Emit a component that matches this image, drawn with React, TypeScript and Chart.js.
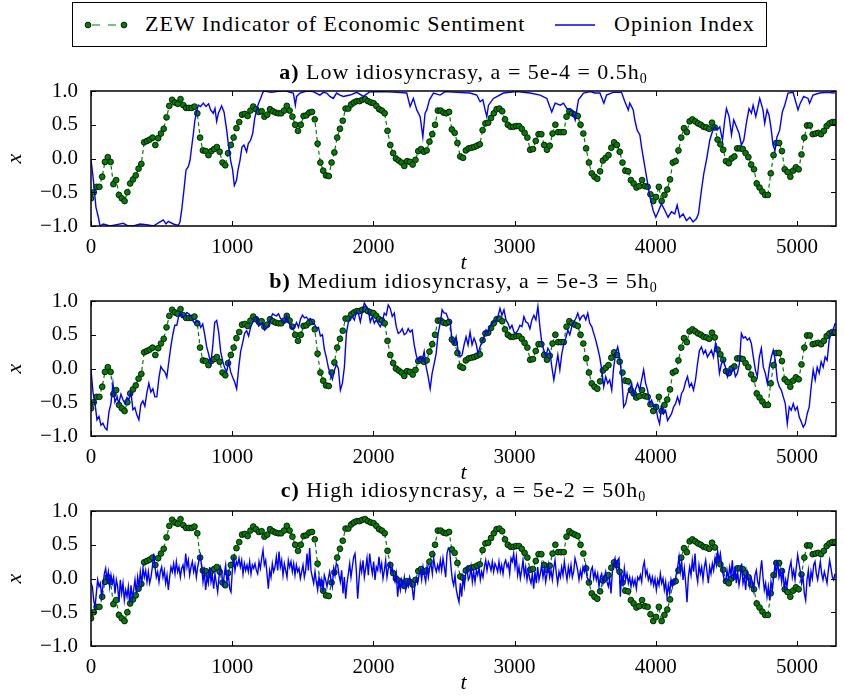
import React, { useEffect, useRef } from "react";
import { Chart, registerables } from "chart.js";
Chart.register(...registerables);

const SERIF = "'Liberation Serif', 'DejaVu Serif', serif";

const X_TICKS = [0, 1000, 2000, 3000, 4000, 5000];
const Y_TICKS = [-1, -0.5, 0, 0.5, 1];
const Y_TICK_LABELS = ["\u22121.0", "\u22120.5", "0.0", "0.5", "1.0"];
const T_MAX = 5276;

// ZEW Indicator of Economic Sentiment (monthly, same in all panels)
const ZEW_MONTH_T = 19.81;
const ZEW = [
  -0.59,-0.50,-0.42,-0.42,-0.27,-0.05,0.02,-0.05,-0.38,-0.32,-0.54,-0.59,-0.63,-0.50,-0.37,-0.31,-0.25,-0.15,-0.08,0.24,
  0.26,0.28,0.31,0.20,0.30,0.37,0.44,0.61,0.78,0.87,0.83,0.81,0.88,0.79,0.75,0.75,0.75,0.77,0.67,0.31,
  0.12,0.11,0.05,0.11,0.14,0.17,0.10,-0.06,-0.10,0.08,0.20,0.31,0.45,0.54,0.65,0.66,0.63,0.71,0.77,0.73,
  0.69,0.70,0.62,0.65,0.73,0.70,0.68,0.67,0.67,0.71,0.78,0.71,0.62,0.50,0.41,0.50,0.63,0.64,0.68,0.69,
  0.58,0.22,-0.06,-0.18,-0.25,-0.26,-0.06,0.09,0.31,
  0.44,0.56,0.74,0.74,0.80,0.83,0.85,0.85,0.87,0.88,0.85,0.83,0.82,0.78,0.73,0.71,0.67,0.41,0.20,0.08,
  0.00,-0.03,-0.06,-0.11,-0.04,-0.05,-0.09,-0.02,0.11,0.14,0.10,0.12,0.25,0.36,0.50,0.71,0.71,0.68,0.67,0.69,
  0.43,0.38,0.23,0.03,0.01,0.12,0.15,0.16,0.17,0.19,0.21,0.42,0.52,0.53,0.60,0.67,0.73,0.74,0.70,0.58,
  0.50,0.47,0.47,0.48,0.48,0.44,0.38,0.31,0.13,0.14,0.26,0.36,0.36,0.20,0.13,0.19,0.37,0.50,0.39,0.39,
  0.39,0.62,0.70,0.67,0.65,0.63,0.50,0.37,0.15,-0.06,-0.22,-0.27,-0.30,-0.19,-0.03,0.01,0.05,0.16,0.24,0.20,
  0.10,-0.06,-0.18,-0.19,-0.32,-0.37,-0.43,-0.41,-0.32,-0.41,-0.42,-0.53,-0.63,-0.57,-0.42,-0.63,-0.54,-0.46,-0.31,-0.06,
  -0.04,0.12,0.31,0.45,0.39,0.55,0.58,0.55,0.52,0.50,0.47,0.46,0.44,0.53,0.46,0.28,0.21,0.13,-0.04,-0.07,
  0.00,0.03,0.15,0.15,0.14,0.08,0.02,-0.09,-0.16,-0.37,-0.43,-0.49,-0.54,-0.54,-0.22,0.05,0.23,0.23,0.11,-0.16,
  -0.20,-0.27,-0.18,-0.13,-0.16,0.06,0.31,0.49,0.49,0.36,0.37,0.38,0.36,0.41,0.48,0.52,0.54,0.54
];

// Panel a: Opinion Index, low idiosyncrasy (t, value)
const OPINION_A_T = [
  0,17,35,52,64,87,135,182,229,264,300,347,394,441,489,512,531,548,583,618,
  630,642,658,673,689,701,713,725,736,748,760,776,795,814,833,847,866,878,890,902,
  913,925,942,961,975,989,1003,1015,1031,1041,1055,1069,1083,1102,1114,1130,1145,1159,1173,1187,
  1201,1215,1225,1279,1338,1385,1409,1433,1447,1456,1480,1527,1574,1621,1645,1669,1692,1716,1739,1763,
  1787,1835,1882,1929,1976,2071,2165,2236,2260,2283,2307,2331,2350,2366,2378,2397,2425,2472,2508,2590,
  2685,2732,2756,2775,2791,2803,2815,2850,2921,3016,3110,3181,3228,3263,3287,3323,3346,3370,3405,3429,
  3452,3488,3535,
  3568,3604,3632,3651,3698,3757,3781,3805,3816,3840,3851,3868,3887,3899,3915,3934,3958,3981,4000,4017,
  4040,4064,4087,4111,4134,4151,4170,4193,4217,4241,4264,4288,4302,4311,4323,4340,4358,4382,4401,4417,
  4434,4453,4472,4488,4500,4519,4536,4552,4571,4590,4606,4623,4641,4660,4677,4689,4708,4724,4736,4759,
  4771,4788,4802,4816,4830,4844,4858,4877,4896,4913,4936,4972,5007,5023,5047,5078,5089,5113,5160,5207,
  5268
];
const OPINION_A = [
  -0.02,-0.32,-0.72,-0.87,-1.0,-0.97,-1.0,-0.98,-0.96,-1.0,-1.0,-0.97,-0.98,-1.0,-0.94,-0.91,-0.97,-0.93,-0.97,-0.99,
  -0.94,-0.77,-0.47,-0.17,-0.12,-0.03,0.17,0.37,0.57,0.69,0.79,0.77,0.82,0.77,0.81,0.72,0.67,0.74,0.55,0.67,
  0.72,0.78,0.69,0.42,0.17,-0.03,-0.17,-0.40,-0.32,-0.17,-0.03,0.17,0.20,0.10,0.22,0.27,0.37,0.59,0.72,0.82,
  0.89,0.97,1.0,0.98,1.0,1.0,0.98,0.97,0.79,0.92,0.97,1.0,0.99,0.94,0.98,0.97,0.92,0.89,0.97,0.94,
  0.92,0.94,0.98,0.92,0.99,0.99,0.98,0.97,0.77,0.89,0.72,0.62,0.32,0.67,0.72,0.87,0.97,0.94,0.99,0.98,
  0.97,0.94,0.84,0.87,0.72,0.62,0.79,0.89,0.97,0.99,0.97,0.94,0.89,0.69,0.82,0.79,0.82,0.74,0.72,0.57,
  0.87,0.97,0.99,
  0.97,0.97,0.82,0.94,0.98,0.98,0.84,0.72,0.82,0.72,0.57,0.42,0.35,0.17,-0.03,-0.27,-0.57,-0.77,-0.87,-0.79,
  -0.67,-0.77,-0.87,-0.79,-0.82,-0.69,-0.87,-0.82,-0.92,-0.87,-0.94,-0.89,-0.82,-0.67,-0.47,-0.22,-0.03,0.27,0.40,0.47,
  0.42,0.47,0.27,0.57,0.74,0.62,0.35,0.57,0.47,0.37,0.20,0.27,0.52,0.74,0.67,0.79,0.62,0.77,0.89,0.72,
  0.52,0.72,0.64,0.45,0.20,0.12,0.32,0.42,0.69,0.79,0.97,0.98,0.72,0.82,0.92,0.89,0.82,0.94,0.97,0.98,
  0.97
];

// Panel b: Opinion Index, medium idiosyncrasy (evenly sampled from t = 0 to OPINION_B_T_END)
const OPINION_B_T_END = 5270;
const OPINION_B = [
  -0.02,-0.35,-0.52,-0.76,-0.71,-0.84,-0.81,-0.88,-0.91,-0.64,
  -0.52,-0.22,-0.50,-0.43,-0.51,-0.38,-0.46,-0.52,-0.43,-0.46,
  -0.35,-0.61,-0.58,-0.69,-0.76,-0.53,-0.48,-0.56,-0.36,-0.22,
  -0.35,-0.30,-0.42,-0.42,-0.15,0.03,-0.02,-0.05,-0.13,0.10,
  0.32,0.50,0.64,0.64,0.78,0.83,0.76,0.78,0.83,0.81,
  0.78,0.71,0.67,0.71,0.68,0.61,0.66,0.50,0.32,0.21,
  0.07,0.32,0.68,0.71,0.54,0.25,0.11,0.01,-0.05,0.10,
  -0.05,-0.13,-0.20,-0.30,0.00,0.25,0.38,0.52,0.56,0.48,
  0.61,0.68,0.73,0.76,0.63,0.65,0.68,0.57,0.60,0.63,
  0.73,0.81,0.79,0.78,0.81,0.74,0.71,0.68,0.78,0.69,
  0.63,0.58,0.61,0.68,0.61,0.73,0.79,0.75,0.76,0.72,
  0.74,0.67,0.66,0.60,0.61,0.48,0.50,0.28,0.16,0.01,
  -0.08,-0.16,-0.03,0.06,0.00,
  -0.32,-0.22,0.02,0.52,0.69,0.74,0.77,0.72,0.84,0.82,0.69,0.84,0.97,0.92,0.87,0.69,0.77,0.67,0.72,0.67,
  0.62,0.69,0.82,0.79,
  0.94,0.89,0.77,0.82,0.62,0.52,0.54,0.59,0.50,0.52,
  0.59,0.54,0.57,0.35,0.20,0.10,0.17,0.12,0.25,0.02,
  -0.12,-0.30,-0.07,0.07,0.22,0.52,0.67,0.87,0.82,0.82,
  0.74,0.69,0.42,0.37,0.47,0.27,0.17,0.20,0.35,0.47,
  0.35,0.54,0.35,0.45,0.37,0.22,0.32,0.40,0.47,0.57,
  0.52,0.62,0.67,0.69,0.72,0.77,0.89,0.79,0.87,0.72,
  0.67,0.59,0.64,0.54,0.52,0.57,0.64,0.62,0.77,0.69,
  0.67,0.59,0.72,0.79,0.72,0.92,0.62,0.37,0.27,0.17,
  0.30,0.25,0.02,-0.17,0.02,0.20,-0.02,0.22,0.37,0.45,
  0.57,0.50,0.62,0.69,0.74,0.82,0.72,0.77,0.79,0.72,
  0.82,
  0.67,0.62,0.52,0.42,0.30,0.17,-0.02,-0.27,-0.12,-0.22,
  -0.17,-0.32,0.02,0.22,0.32,0.17,-0.12,-0.57,-0.52,-0.37,
  -0.32,-0.22,-0.42,-0.30,-0.22,-0.32,-0.17,-0.02,-0.22,-0.32,
  -0.52,-0.47,-0.57,-0.54,-0.72,-0.82,-0.57,-0.67,-0.62,-0.77,
  -0.72,-0.67,-0.57,-0.52,-0.42,-0.52,-0.37,-0.32,-0.20,-0.12,
  -0.27,-0.22,-0.32,-0.17,0.07,0.27,0.32,0.22,0.27,0.17,
  0.22,0.27,0.17,0.37,0.22,-0.07,0.07,0.12,0.02,-0.12,
  -0.02,-0.07,0.02,-0.12,-0.07,0.07,0.52,0.45,0.47,0.42,
  0.45,0.37,0.17,-0.02,-0.12,0.17,0.30,0.02,-0.07,-0.22,
  0.02,0.17,0.27,0.12,-0.17,-0.27,-0.32,-0.42,-0.52,-0.82,
  -0.57,-0.62,-0.52,-0.62,-0.57,-0.72,-0.79,-0.87,-0.82,-0.67,
  -0.57,-0.27,-0.02,-0.17,0.02,-0.07,0.10,0.02,0.17,0.12,
  0.42,0.52,0.57,0.67
];

// Panel c: Opinion Index, high idiosyncrasy (evenly sampled from t = 0 to OPINION_C_T_END)
const OPINION_C_T_END = 5269;
const OPINION_C = [
  -0.07,-0.12,-0.32,-0.42,-0.22,-0.02,-0.12,-0.07,-0.27,-0.10,0.07,0.15,-0.02,0.10,-0.12,0.05,-0.07,0.02,-0.22,-0.02,
  -0.12,-0.35,-0.02,-0.22,-0.07,-0.32,-0.17,-0.27,-0.12,-0.37,-0.10,-0.30,-0.17,-0.02,-0.22,0.02,-0.12,0.10,-0.07,0.15,
  0.02,0.12,-0.05,0.10,-0.07,0.02,0.17,0.37,0.17,0.02,0.10,-0.05,0.10,0.17,0.02,0.12,-0.07,0.05,-0.17,0.02,
  0.17,0.10,0.22,0.07,0.25,0.10,0.17,0.02,0.15,0.20,0.07,0.37,0.17,0.27,0.05,0.17,0.25,0.10,0.20,0.02,
  0.17,0.27,0.35,0.17,-0.05,0.10,-0.17,0.02,-0.07,0.17,-0.05,0.05,-0.15,0.07,-0.07,-0.20,0.02,0.17,0.10,-0.12,
  0.07,0.20,-0.05,0.07,-0.15,-0.20,0.12,0.32,0.12,0.25,0.20,0.30,0.17,0.27,0.07,0.22,0.12,0.20,0.10,0.25,
  0.07,0.20,0.15,0.22,0.12,0.07,0.25,0.15,0.30,0.42,0.20,0.27,0.07,-0.15,0.12,0.02,0.22,0.10,0.17,0.32,
  0.12,0.40,0.17,0.27,0.05,0.22,0.12,0.02,0.27,0.17,0.25,0.10,0.22,0.05,0.20,0.10,0.15,0.00,0.10,0.20,
  0.02,0.12,0.37,0.12,0.45,0.12,0.02,-0.07,0.10,-0.05,-0.17,0.02,-0.12,-0.02,-0.20,0.05,-0.02,-0.12,0.00,0.10,
  -0.02,-0.12,0.15,0.05,0.22,0.20,0.05,
  -0.05,0.12,-0.22,0.02,-0.30,-0.07,0.07,0.22,0.02,0.17,0.32,0.37,0.12,-0.30,-0.02,0.22,0.10,0.27,0.02,0.15,
  0.30,0.05,0.37,0.20,0.07,0.25,-0.02,0.17,0.12,0.32,0.12,0.22,0.00,0.12,0.27,0.02,0.15,0.22,0.10,0.15,
  0.02,-0.05,0.07,-0.27,-0.05,-0.17,-0.02,-0.10,0.02,-0.17,-0.07,-0.12,0.02,-0.05,-0.15,-0.32,-0.07,0.00,-0.07,0.05,
  0.12,-0.02,0.17,0.05,-0.05,0.17,0.02,0.17,0.22,0.07,0.30,0.17,0.10,0.20,0.12,0.27,0.12,0.30,0.17,0.02,
  0.37,0.45,0.42,0.17,-0.02,-0.10,0.05,-0.17,-0.27,-0.35,-0.07,-0.27,0.02,-0.12,0.07,0.15,-0.02,0.02,0.17,-0.05,
  0.10,-0.05,0.12,0.05,0.17,-0.02,0.10,0.02,0.17,0.27,0.12,0.25,0.20,0.12,0.25,0.10,0.22,0.17,0.10,0.25,
  0.10,0.20,0.07,0.22,0.27,0.17,0.22,0.07,0.30,0.25,0.37,0.17,0.32,0.05,0.17,0.00,0.12,0.27,0.05,0.17,
  -0.02,0.12,0.00,-0.07,0.07,-0.15,0.10,-0.07,0.17,-0.02,0.07,0.20,0.02,0.15,-0.05,0.07,0.20,0.02,0.12,-0.02,
  0.15,0.27,0.07,-0.07,0.10,0.02,0.17,0.05,0.25,0.10,-0.02,0.17,0.05,0.20,0.02,0.10,0.30,0.22,0.12,-0.02,
  0.12,0.02,0.17,0.10,0.20,0.02,-0.02,-0.05,
  0.12,0.17,0.00,0.10,-0.02,0.07,-0.12,0.02,0.07,-0.07,0.02,0.10,-0.05,-0.12,0.00,-0.22,0.10,0.22,0.30,0.15,
  0.27,0.30,-0.27,0.07,-0.07,0.15,-0.02,0.07,-0.07,0.02,-0.12,0.00,-0.10,-0.02,-0.15,0.02,-0.02,0.05,-0.05,0.17,
  0.25,0.05,0.12,-0.02,0.05,-0.07,0.02,-0.10,0.00,-0.17,-0.02,-0.10,0.07,-0.07,0.00,-0.17,-0.05,-0.27,-0.10,-0.22,
  -0.02,-0.12,-0.02,-0.05,0.07,0.17,0.32,0.10,0.25,-0.02,0.15,-0.07,-0.35,0.02,0.17,0.05,0.27,0.10,0.37,0.07,
  -0.05,0.20,0.07,0.17,-0.02,0.17,0.27,0.10,-0.07,0.17,0.07,0.22,0.12,0.30,0.20,0.40,0.27,0.37,0.20,0.07,
  -0.02,-0.05,0.12,0.00,0.17,0.05,0.27,-0.02,0.17,-0.07,0.10,-0.10,0.02,0.22,-0.07,0.02,-0.17,0.10,-0.02,-0.12,
  0.02,-0.05,-0.17,0.05,0.12,-0.05,-0.12,0.10,0.27,0.02,-0.17,-0.07,-0.27,-0.12,-0.32,-0.05,-0.17,0.02,0.20,0.07,
  0.27,0.02,0.10,-0.05,0.15,-0.17,-0.02,-0.12,0.05,0.17,0.25,0.02,0.12,-0.02,0.17,0.35,0.22,0.10,-0.07,0.02,
  -0.22,-0.32,-0.02,0.12,-0.12,0.10,0.00,0.20,0.25,0.07,-0.02,0.12,0.25,0.07,-0.02,0.10,0.02,-0.07,0.12,0.27,
  0.15,0.02,-0.02,0.07
];

type Pt = { x: number; y: number };

const evenSeries = (vals: number[], tEnd: number): Pt[] =>
  vals.map((v, i) => ({ x: (i * tEnd) / (vals.length - 1), y: v }));

const zewPoints: Pt[] = ZEW.map((v, i) => ({ x: i * ZEW_MONTH_T, y: v }));
const opinionA: Pt[] = OPINION_A.map((v, i) => ({ x: OPINION_A_T[i], y: v }));
const opinionB: Pt[] = evenSeries(OPINION_B, OPINION_B_T_END);
const opinionC: Pt[] = evenSeries(OPINION_C, OPINION_C_T_END);

const framePlugin = {
  id: "frame",
  afterDatasetsDraw(chart: any) {
    const { ctx, chartArea: a, scales } = chart;
    const xs = scales.x;
    const ys = scales.y;
    ctx.save();
    ctx.strokeStyle = "#000";
    ctx.lineWidth = 1;
    ctx.beginPath();
    X_TICKS.forEach((v) => {
      const px = Math.round(xs.getPixelForValue(v)) + 0.5;
      ctx.moveTo(px, a.bottom);
      ctx.lineTo(px, a.bottom - 5);
      ctx.moveTo(px, a.top);
      ctx.lineTo(px, a.top + 5);
    });
    Y_TICKS.forEach((v) => {
      const py = Math.round(ys.getPixelForValue(v)) + 0.5;
      ctx.moveTo(a.left, py);
      ctx.lineTo(a.left + 5, py);
      ctx.moveTo(a.right, py);
      ctx.lineTo(a.right - 5, py);
    });
    ctx.stroke();
    ctx.lineWidth = 1.5;
    ctx.strokeRect(a.left, a.top, a.right - a.left, a.bottom - a.top);
    ctx.restore();
  },
};

const CANVAS_H = 205;

function Panel({ top, opinion }: { top: number; opinion: Pt[] }) {
  const ref = useRef<HTMLCanvasElement | null>(null);
  useEffect(() => {
    if (!ref.current) return;
    const tickFont = { family: SERIF, size: 21 };
    const titleFont = { family: SERIF, size: 22, style: "italic" as const };
    const chart = new Chart(ref.current, {
      type: "line",
      data: {
        datasets: [
          {
            label: "ZEW Indicator of Economic Sentiment",
            data: zewPoints,
            borderColor: "#008000",
            borderWidth: 1.2,
            borderDash: [4, 3],
            pointRadius: 2.9,
            pointBackgroundColor: "#008000",
            pointBorderColor: "#000000",
            pointBorderWidth: 0.8,
            order: 2,
          },
          {
            label: "Opinion Index",
            data: opinion,
            borderColor: "#0000ff",
            borderWidth: 1.4,
            pointRadius: 0,
            order: 1,
          },
        ],
      },
      options: {
        animation: false,
        responsive: false,
        maintainAspectRatio: false,
        layout: { padding: { top: 20, right: 8, left: 0, bottom: 0 } },
        plugins: { legend: { display: false }, tooltip: { enabled: false } },
        scales: {
          x: {
            type: "linear",
            min: 0,
            max: T_MAX,
            afterBuildTicks: (s: any) => {
              s.ticks = X_TICKS.map((v) => ({ value: v }));
            },
            afterFit: (s: any) => {
              s.height = 50;
              s.paddingLeft = 0;
              s.paddingRight = 0;
            },
            ticks: {
              font: tickFont,
              color: "#000",
              padding: 9,
              maxRotation: 0,
              autoSkip: false,
              callback: (v: any) => String(v),
            },
            grid: { display: false, drawTicks: false },
            border: { display: false },
            title: { display: true, text: "t", font: titleFont, color: "#000", padding: { top: 0, bottom: 0 } },
          },
          y: {
            type: "linear",
            min: -1,
            max: 1,
            afterBuildTicks: (s: any) => {
              s.ticks = Y_TICKS.map((v) => ({ value: v }));
            },
            afterFit: (s: any) => {
              s.width = 91;
              s.paddingTop = 0;
              s.paddingBottom = 0;
            },
            ticks: {
              font: tickFont,
              color: "#000",
              padding: 13,
              autoSkip: false,
              callback: (v: any) => {
                const i = Y_TICKS.indexOf(Number(v));
                return i >= 0 ? Y_TICK_LABELS[i] : "";
              },
            },
            grid: { display: false, drawTicks: false },
            border: { display: false },
            title: { display: true, text: "x", font: titleFont, color: "#000", padding: { top: 2, bottom: 0 } },
          },
        },
      },
      plugins: [framePlugin],
    } as any);
    return () => chart.destroy();
  }, [opinion]);
  return (
    <canvas
      ref={ref}
      width={844}
      height={CANVAS_H}
      style={{ position: "absolute", left: 0, top, width: 844, height: CANVAS_H }}
    />
  );
}

const titleStyle = (centerY: number): React.CSSProperties => ({
  position: "absolute",
  left: 91,
  width: 745,
  top: centerY - 13,
  height: 26,
  lineHeight: "26px",
  textAlign: "center",
  fontFamily: SERIF,
  fontSize: 22,
  letterSpacing: "1px",
  color: "#000",
  whiteSpace: "nowrap",
  zIndex: 2,
});

const subStyle: React.CSSProperties = { fontSize: 14, verticalAlign: "-4px", lineHeight: 0 };

export default function App() {
  return (
    <div
      style={{
        position: "absolute",
        left: 0,
        top: 0,
        width: 844,
        height: 696,
        overflow: "hidden",
        background: "#fff",
      }}
    >
      <Panel top={71} opinion={opinionA} />
      <Panel top={281} opinion={opinionB} />
      <Panel top={491} opinion={opinionC} />

      <div style={titleStyle(72)}>
        <b>a)</b> Low idiosyncrasy, a = 5e-4 = 0.5h<span style={subStyle}>0</span>
      </div>
      <div style={titleStyle(281)}>
        <b>b)</b> Medium idiosyncrasy, a = 5e-3 = 5h<span style={subStyle}>0</span>
      </div>
      <div style={titleStyle(490)}>
        <b>c)</b> High idiosyncrasy, a = 5e-2 = 50h<span style={subStyle}>0</span>
      </div>

      <div
        style={{
          position: "absolute",
          left: 72,
          top: 2,
          width: 695,
          height: 45,
          boxSizing: "border-box",
          border: "1.5px solid #000",
          fontFamily: SERIF,
          fontSize: 22,
          letterSpacing: "1px",
          color: "#000",
          zIndex: 3,
          background: "#fff",
        }}
      >
        <svg width={44} height={12} style={{ position: "absolute", left: 11, top: 15.5 }}>
          <line x1={4} y1={6} x2={40} y2={6} stroke="#008000" strokeWidth={1.2} strokeDasharray="8 8" strokeDashoffset={-4} />
          <circle cx={4} cy={6} r={2.9} fill="#008000" stroke="#000" strokeWidth={0.8} />
          <circle cx={40} cy={6} r={2.9} fill="#008000" stroke="#000" strokeWidth={0.8} />
        </svg>
        <span style={{ position: "absolute", left: 72, top: 7, lineHeight: "28px", whiteSpace: "nowrap" }}>
          ZEW Indicator of Economic Sentiment
        </span>
        <svg width={42} height={12} style={{ position: "absolute", left: 482, top: 15.5 }}>
          <line x1={0} y1={6} x2={40} y2={6} stroke="#0000ff" strokeWidth={1.4} />
        </svg>
        <span style={{ position: "absolute", left: 541, top: 7, lineHeight: "28px", whiteSpace: "nowrap" }}>
          Opinion Index
        </span>
      </div>
    </div>
  );
}
